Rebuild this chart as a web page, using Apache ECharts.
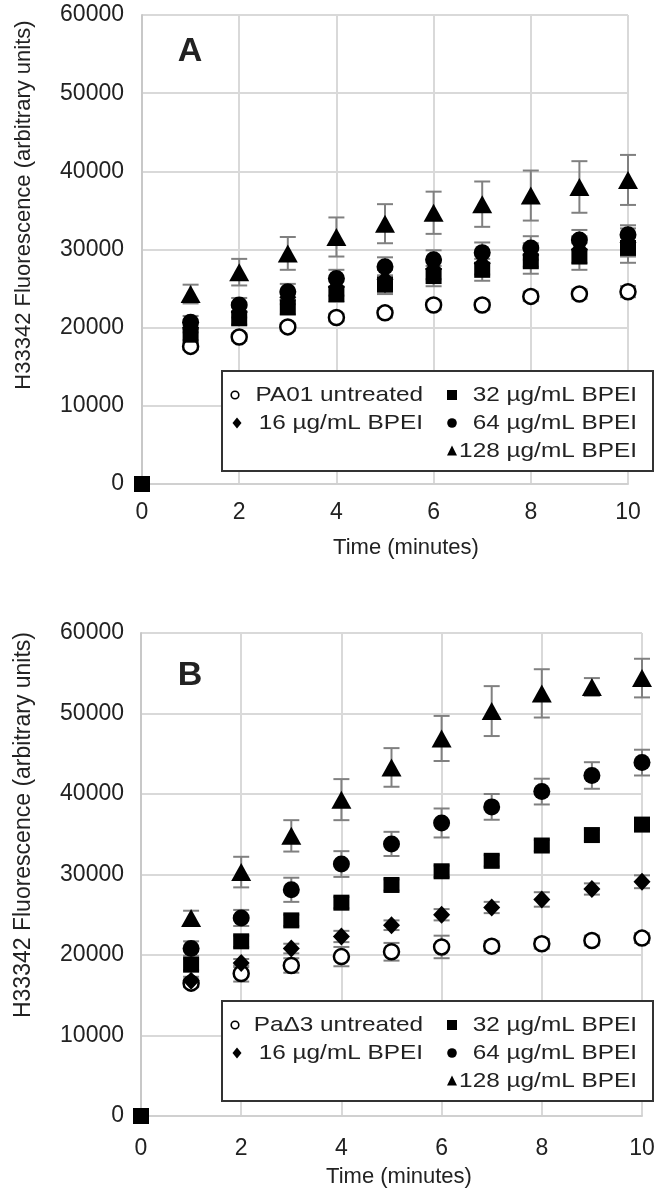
<!DOCTYPE html>
<html lang="en">
<head>
<meta charset="UTF-8">
<title>H33342 Fluorescence</title>
<script src="https://cdn.jsdelivr.net/npm/echarts@6/dist/echarts.min.js"></script>
<style>
    html, body { margin: 0; padding: 0; background: #fff; }
    #chart { width: 671px; height: 1191px; }
</style>
</head>
<body>
<div id="chart"></div>
<script>
// ===== 数据 =====
const times = [1, 2, 3, 4, 5, 6, 7, 8, 9, 10];
const xTickValues = [0, 2, 4, 6, 8, 10];
const yTickValues = [0, 10000, 20000, 30000, 40000, 50000, 60000];
const zeroPoint = [0, 0];   // 0 分钟处的方块

const groupNames = ['untreated', '16 µg/mL BPEI', '32 µg/mL BPEI', '64 µg/mL BPEI', '128 µg/mL BPEI'];
const untreatedNameA = 'PA01 untreated';
const untreatedNameB = 'PaΔ3 untreated';

// A 图 (PA01)
const aUntreated = [17600, 18800, 20100, 21300, 21900, 22900, 22900, 24000, 24300, 24600];
const aUntreatedErr = [400, 500, 500, 500, 600, 600, 600, 600, 600, 700];
const a16 = [20000, 22000, 23900, 25200, 26200, 27500, 28200, 29300, 30000, 30900];
const a16Err = [600, 700, 900, 1100, 1200, 1300, 1400, 1500, 1700, 1800];
const a32 = [19100, 21200, 22600, 24300, 25500, 26600, 27400, 28500, 29100, 30200];
const a32Err = [700, 800, 900, 1000, 1200, 1300, 1400, 1600, 1700, 1900];
const a64 = [20700, 22900, 24600, 26300, 27800, 28700, 29600, 30200, 31200, 31900];
const a64Err = [800, 900, 1000, 1100, 1200, 1200, 1300, 1500, 1300, 1200];
const a128 = [24300, 27100, 29500, 31600, 33300, 34700, 35800, 36900, 38000, 38900];
const a128Err = [1200, 1700, 2100, 2500, 2500, 2700, 2900, 3200, 3300, 3200];

// B 图 (PaΔ3)
const bUntreated = [16500, 17700, 18700, 19800, 20400, 21000, 21100, 21400, 21800, 22100];
const bUntreatedErr = [500, 1000, 900, 1200, 1100, 1400, 600, 600, 600, 600];
const b16 = [16800, 19000, 20800, 22300, 23700, 25000, 25900, 26900, 28200, 29100];
const b16Err = [500, 500, 600, 700, 600, 700, 700, 900, 700, 800];
const b32 = [18800, 21700, 24300, 26500, 28700, 30400, 31700, 33600, 34900, 36200];
const b32Err = [700, 700, 700, 700, 700, 700, 700, 700, 700, 700];
const b64 = [20800, 24600, 28100, 31300, 33800, 36400, 38400, 40300, 42300, 43900];
const b64Err = [900, 1000, 1500, 1600, 1500, 1800, 1600, 1600, 1650, 1600];
const b128 = [24600, 30300, 34800, 39300, 43300, 46900, 50300, 52500, 53300, 54400];
const b128Err = [900, 1900, 1950, 2550, 2400, 2800, 3100, 3000, 1100, 2400];

document.addEventListener('DOMContentLoaded', () => {
    const FONT = '"Liberation Sans", Arial, sans-serif';
    const TEXT = '#222';
    const GRID_LINE = { color: '#d9d9d9', width: 2 };
    const ERR_COLOR = '#808080';

    // 每组的标记样式（顺序同 groupNames）
    const markers = [
        { symbol: 'circle', size: 15, style: { color: '#fff', borderColor: '#000', borderWidth: 2.5 } },
        { symbol: 'diamond', size: [17, 18], style: { color: '#000' } },
        { symbol: 'rect', size: 16, style: { color: '#000' } },
        { symbol: 'circle', size: 17, style: { color: '#000' } },
        { symbol: 'triangle', size: [20, 18], style: { color: '#000' } }
    ];

    const panels = [
        { values: [aUntreated, a16, a32, a64, a128], errs: [aUntreatedErr, a16Err, a32Err, a64Err, a128Err] },
        { values: [bUntreated, b16, b32, b64, b128], errs: [bUntreatedErr, b16Err, b32Err, b64Err, b128Err] }
    ];

    // 误差棒
    const renderErrorBar = (params, api) => {
        const x = api.value(0), y = api.value(1), e = api.value(2);
        const top = api.coord([x, y + e]);
        const bot = api.coord([x, y - e]);
        const half = 8;
        const style = { stroke: ERR_COLOR, lineWidth: 2 };
        return {
            type: 'group',
            children: [
                { type: 'line', shape: { x1: top[0], y1: top[1], x2: bot[0], y2: bot[1] }, style },
                { type: 'line', shape: { x1: top[0] - half, y1: top[1], x2: top[0] + half, y2: top[1] }, style },
                { type: 'line', shape: { x1: bot[0] - half, y1: bot[1], x2: bot[0] + half, y2: bot[1] }, style }
            ]
        };
    };

    const series = [];
    panels.forEach((panel, p) => {
        panel.values.forEach((vals, g) => {
            series.push({
                type: 'custom',
                xAxisIndex: p,
                yAxisIndex: p,
                renderItem: renderErrorBar,
                data: times.map((t, i) => [t, vals[i], panel.errs[g][i]]),
                encode: { x: 0, y: 1 },
                z: 1,
                silent: true
            });
        });
        panel.values.forEach((vals, g) => {
            const data = times.map((t, i) => [t, vals[i]]);
            if (g === 2) data.unshift(zeroPoint);
            series.push({
                type: 'scatter',
                name: groupNames[g],
                xAxisIndex: p,
                yAxisIndex: p,
                data: data,
                symbol: markers[g].symbol,
                symbolSize: markers[g].size,
                itemStyle: Object.assign({ opacity: 1 }, markers[g].style),
                z: 3,
                silent: true
            });
        });
    });

    const xAxisBase = (gridIndex, margin) => ({
        type: 'value',
        gridIndex,
        min: xTickValues[0],
        max: xTickValues[xTickValues.length - 1],
        interval: xTickValues[1] - xTickValues[0],
        axisLine: { show: true, onZero: false, lineStyle: { color: '#d0d0d0', width: 2 } },
        axisTick: { show: false },
        splitLine: { show: true, lineStyle: GRID_LINE },
        axisLabel: { margin, fontSize: 23, fontFamily: FONT, color: TEXT, formatter: v => String(v) }
    });
    const yAxisBase = (gridIndex, margin) => ({
        type: 'value',
        gridIndex,
        min: yTickValues[0],
        max: yTickValues[yTickValues.length - 1],
        interval: yTickValues[1] - yTickValues[0],
        axisLine: { show: true, lineStyle: { color: '#c8c8c8', width: 2 } },
        axisTick: { show: false },
        splitLine: { show: true, lineStyle: GRID_LINE },
        axisLabel: { margin, fontSize: 23, fontFamily: FONT, color: TEXT, formatter: v => String(v) }
    });

    // 图例（手工排布成两列）
    const buildLegend = (top, firstName) => {
        const els = [];
        els.push({
            type: 'rect', z: 100,
            shape: { x: 222, y: top, width: 431, height: 100 },
            style: { fill: '#fff', stroke: '#333', lineWidth: 2 }
        });
        const rows = [top + 24, top + 52, top + 80];
        const col1 = 423, col2 = 637;
        const items = [
            { name: firstName, x: col1, y: rows[0] },
            { name: ' ' + groupNames[1], x: col1, y: rows[1] },
            { name: groupNames[2], x: col2, y: rows[0] },
            { name: groupNames[3], x: col2, y: rows[1] },
            { name: groupNames[4], x: col2, y: rows[2] }
        ];
        items.forEach(it => {
            els.push({
                type: 'text', z: 101, x: it.x, y: it.y, scaleX: 1.16,
                style: { text: it.name, fontSize: 21, fontFamily: FONT, fill: TEXT, align: 'right', verticalAlign: 'middle' }
            });
        });
        // 图例符号
        els.push({ type: 'circle', z: 101, shape: { cx: 235, cy: rows[0], r: 3.8 }, style: { fill: '#fff', stroke: '#000', lineWidth: 1.6 } });
        els.push({ type: 'polygon', z: 101, shape: { points: [[237, rows[1] - 5.5], [241.5, rows[1]], [237, rows[1] + 5.5], [232.5, rows[1]]] }, style: { fill: '#000' } });
        els.push({ type: 'rect', z: 101, shape: { x: 447, y: rows[0] - 5, width: 10, height: 10 }, style: { fill: '#000' } });
        els.push({ type: 'circle', z: 101, shape: { cx: 452, cy: rows[1], r: 4.8 }, style: { fill: '#000' } });
        els.push({ type: 'polygon', z: 101, shape: { points: [[452, rows[2] - 5.5], [457, rows[2] + 4.5], [447, rows[2] + 4.5]] }, style: { fill: '#000' } });
        return els;
    };

    const label = (text, x, y, fontSize, rotation, weight) => ({
        type: 'text', z: 100, x, y, rotation: rotation || 0,
        style: { text, fontSize, fontWeight: weight || 'normal', fontFamily: FONT, fill: TEXT, align: 'center', verticalAlign: 'middle' }
    });

    const graphics = [
        label('A', 190, 52, 34, 0, 'bold'),
        label('B', 190, 676, 34, 0, 'bold'),
        label('H33342 Fluorescence (arbitrary units)', 24, 205, 22, Math.PI / 2),
        label('H33342 Fluorescence (arbitrary units)', 24, 825, 23, Math.PI / 2),
        label('Time (minutes)', 406, 548, 22),
        label('Time (minutes)', 399, 1177, 22)
    ].concat(buildLegend(371, untreatedNameA), buildLegend(1001, untreatedNameB));

    const chart = echarts.init(document.getElementById('chart'));
    chart.setOption({
        animation: false,
        backgroundColor: '#fff',
        grid: [
            { left: 142, top: 15, width: 486, height: 469 },
            { left: 141, top: 633, width: 501, height: 483 }
        ],
        xAxis: [xAxisBase(0, 17), xAxisBase(1, 21)],
        yAxis: [yAxisBase(0, 18), yAxisBase(1, 17)],
        series: series,
        graphic: { elements: graphics }
    });
});
</script>
</body>
</html>
